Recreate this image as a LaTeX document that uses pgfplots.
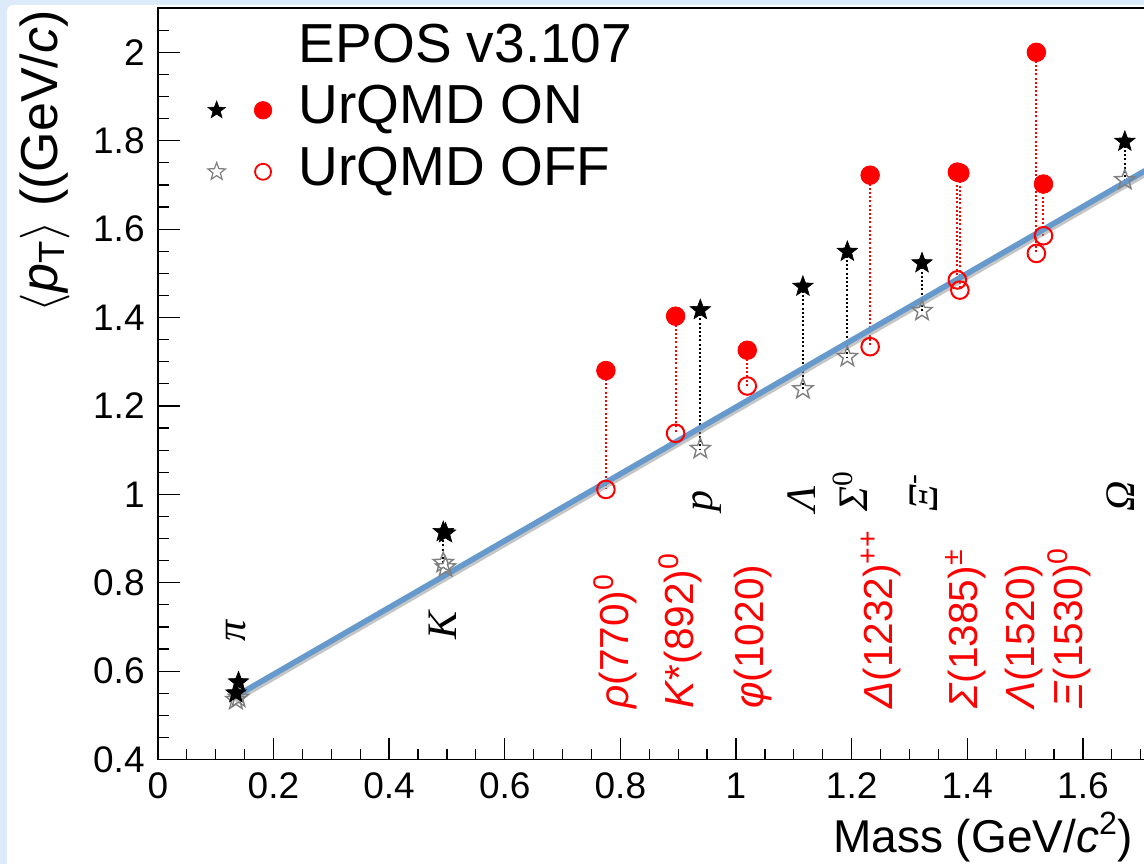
\documentclass[border=0pt]{standalone}
\usepackage{fontspec}
\setmainfont{Liberation Sans}
\newfontfamily\serifont{Liberation Serif}
\usepackage{pgfplots}
\pgfplotsset{compat=1.18}
\definecolor{bgblue}{RGB}{220,234,250}
\definecolor{lineblue}{RGB}{102,153,204}
\definecolor{offgray}{RGB}{128,128,128}
\newcommand\pstarpath{%
  \pgfpathmoveto{\pgfpointpolar{90}{\pgfplotmarksize}}%
  \pgfpathlineto{\pgfpointpolar{126}{0.42\pgfplotmarksize}}%
  \pgfpathlineto{\pgfpointpolar{162}{\pgfplotmarksize}}%
  \pgfpathlineto{\pgfpointpolar{198}{0.42\pgfplotmarksize}}%
  \pgfpathlineto{\pgfpointpolar{234}{\pgfplotmarksize}}%
  \pgfpathlineto{\pgfpointpolar{270}{0.42\pgfplotmarksize}}%
  \pgfpathlineto{\pgfpointpolar{306}{\pgfplotmarksize}}%
  \pgfpathlineto{\pgfpointpolar{342}{0.42\pgfplotmarksize}}%
  \pgfpathlineto{\pgfpointpolar{18}{\pgfplotmarksize}}%
  \pgfpathlineto{\pgfpointpolar{54}{0.42\pgfplotmarksize}}%
  \pgfpathclose}
\pgfdeclareplotmark{pstar}{\pstarpath\pgfusepathqfillstroke}
\pgfdeclareplotmark{pstaro}{\pstarpath\pgfusepathqstroke}
\pgfplotsset{
  redcon/.style={red, line width=1pt, dash pattern=on 1pt off 1.1pt, forget plot},
  blkcon/.style={black, line width=1pt, dash pattern=on 1pt off 1.1pt, forget plot},
}
\newcommand\redlab{\fontsize{20.3}{24}\selectfont\color{red}}
\newcommand\blklab{\fontsize{21}{25}\selectfont\serifont\itshape}
\begin{document}
\begin{tikzpicture}
\useasboundingbox (-78.9pt,-52.25pt) rectangle (493.1pt,379.75pt);
\clip (-78.9pt,-52.25pt) rectangle (493.1pt,379.75pt);
\fill[bgblue] (-78.9pt,-52.25pt) rectangle (493.1pt,379.75pt);
\fill[white, rounded corners=3pt] (-75.4pt,-60pt) rectangle (500pt,377.25pt);
\begin{axis}[
  at={(0,0)}, anchor=south west,
  scale only axis, width=520.38pt, height=375.7pt,
  xmin=0, xmax=1.8, ymin=0.4, ymax=2.1,
  clip=false,
  xtick={0,0.2,0.4,0.6,0.8,1,1.2,1.4,1.6},
  ytick={0.4,0.6,0.8,1,1.2,1.4,1.6,1.8,2},
  minor xtick={0.05,0.1,...,1.75},
  minor ytick={0.45,0.5,...,2.1},
  xtick pos=left, ytick pos=left,
  tick align=inside,
  major tick length=11pt, minor tick length=5.5pt,
  every tick/.style={black, line width=0.6pt},
  axis line style={line width=0.9pt},
  /pgf/number format/assume math mode=true,
  tick label style={font=\fontsize{18.5}{20}\selectfont, inner sep=0pt},
  xticklabel style={yshift=-6.5pt},
  yticklabel style={xshift=-6.4pt},
  legend cell align=left,
  legend style={draw=none, fill=none, inner sep=0pt, outer sep=0pt,
    at={(0.0479,0.9868)}, anchor=north west,
    font=\fontsize{27.5}{33}\selectfont,
    row sep=0pt, column sep=13.5pt,
    nodes={inner sep=0pt, outer sep=0pt, text height=22pt, text depth=8.75pt}},
]
\addlegendimage{empty legend}\addlegendentry{EPOS v3.107}
\addlegendimage{legend image code/.code={%
  \begin{scope}[shift={(4.5pt,0pt)}]\pgfsetplotmarksize{4.6pt}\pgfsetfillcolor{black}\pgfsetstrokecolor{black}\pgfsetlinewidth{0.3pt}\pgfuseplotmark{pstar}\end{scope}
  \begin{scope}[shift={(27.7pt,0pt)}]\pgfsetplotmarksize{4.4pt}\pgfsetfillcolor{red}\pgfsetstrokecolor{red}\pgfsetlinewidth{0.3pt}\pgfuseplotmark{*}\end{scope}}}
\addlegendentry{UrQMD ON}
\addlegendimage{legend image code/.code={%
  \begin{scope}[shift={(4.5pt,0pt)}]\pgfsetplotmarksize{4.6pt}\pgfsetstrokecolor{offgray}\pgfsetlinewidth{0.6pt}\pgfuseplotmark{pstaro}\end{scope}
  \begin{scope}[shift={(27.7pt,0pt)}]\pgfsetplotmarksize{4.0pt}\pgfsetstrokecolor{red}\pgfsetlinewidth{0.9pt}\pgfuseplotmark{o}\end{scope}}}
\addlegendentry{UrQMD OFF}

% connectors (red: resonances)
\addplot[redcon] coordinates {(0.775,1.280) (0.775,1.011)};
\addplot[redcon] coordinates {(0.8955,1.403) (0.8955,1.138)};
\addplot[redcon] coordinates {(1.0195,1.326) (1.0195,1.245)};
\addplot[redcon] coordinates {(1.232,1.722) (1.232,1.334)};
\addplot[redcon] coordinates {(1.3828,1.729) (1.3828,1.485)};
\addplot[redcon] coordinates {(1.3872,1.727) (1.3872,1.462)};
\addplot[redcon] coordinates {(1.5195,2.000) (1.5195,1.545)};
\addplot[redcon] coordinates {(1.5318,1.702) (1.5318,1.585)};
% connectors (black: stable hadrons)
\addplot[blkcon] coordinates {(0.4937,0.915) (0.4937,0.845)};
\addplot[blkcon] coordinates {(0.9383,1.417) (0.9383,1.103)};
\addplot[blkcon] coordinates {(1.1157,1.470) (1.1157,1.238)};
\addplot[blkcon] coordinates {(1.1926,1.549) (1.1926,1.311)};
\addplot[blkcon] coordinates {(1.3217,1.523) (1.3217,1.415)};
\addplot[blkcon] coordinates {(1.6725,1.798) (1.6725,1.711)};

% UrQMD OFF
\addplot[only marks, mark=o, mark size=4.4pt, red, line width=1pt, forget plot] coordinates {
 (0.775,1.011) (0.8955,1.138) (1.0195,1.245) (1.232,1.334) (1.3828,1.485) (1.3872,1.462) (1.5195,1.545) (1.5318,1.585)};
\addplot[only marks, mark=pstaro, mark size=5.3pt, offgray, line width=0.7pt, forget plot] coordinates {
 (0.1350,0.535) (0.1396,0.540) (0.4937,0.845) (0.4976,0.835) (0.9383,1.103) (1.1157,1.238) (1.1926,1.311) (1.3217,1.415) (1.6725,1.711)};
% UrQMD ON
\addplot[only marks, mark=pstar, mark size=5.4pt, black, line width=0.3pt, mark options={fill=black}, forget plot] coordinates {
 (0.1350,0.550) (0.1396,0.575) (0.4937,0.915) (0.4976,0.912) (0.9383,1.417) (1.1157,1.470) (1.1926,1.549) (1.3217,1.523) (1.6725,1.798)};
\addplot[only marks, mark=*, mark size=4.65pt, red, forget plot] coordinates {
 (0.775,1.280) (0.8955,1.403) (1.0195,1.326) (1.232,1.722) (1.3828,1.729) (1.3872,1.727) (1.5195,2.000) (1.5318,1.702)};

% fit line with shadow
\addplot[black!45, opacity=0.5, line width=2.8pt, xshift=0.8pt, yshift=-1.2pt, forget plot] coordinates {(0.1306,0.540) (1.80,1.802)};
\addplot[lineblue, line width=2.8pt, forget plot] coordinates {(0.1306,0.540) (1.80,1.802)};

% black labels
\node[rotate=90, anchor=base west, inner sep=0pt, font=\blklab] at (axis cs:0.151,0.666) {π};
\node[rotate=90, anchor=base west, inner sep=0pt, font=\blklab] at (axis cs:0.517,0.670) {K};
\node[rotate=90, anchor=base west, inner sep=0pt, font=\blklab] at (axis cs:0.9585,0.960) {p};
\node[rotate=90, anchor=base west, inner sep=0pt, font=\blklab] at (axis cs:1.137,0.960) {Λ};
\node[rotate=90, anchor=base west, inner sep=0pt, font=\blklab] at (axis cs:1.228,0.960) {Σ\textsuperscript{\upshape 0}};
\node[rotate=90, anchor=base west, inner sep=0pt, font=\blklab] at (axis cs:1.348,0.960) {Ξ\textsuperscript{\upshape -}};
\node[rotate=90, anchor=base west, inner sep=0pt, font=\blklab] at (axis cs:1.690,0.960) {Ω};
% red labels
\node[rotate=90, anchor=base west, inner sep=0pt, font=\redlab] at (axis cs:0.8135,0.514) {\textit{ρ}(770)\textsuperscript{0}};
\node[rotate=90, anchor=base west, inner sep=0pt, font=\redlab] at (axis cs:0.926,0.514) {\textit{K}*(892)\textsuperscript{0}};
\node[rotate=90, anchor=base west, inner sep=0pt, font=\redlab] at (axis cs:1.0467,0.514) {\textit{φ}(1020)};
\node[rotate=90, anchor=base west, inner sep=0pt, font=\redlab] at (axis cs:1.270,0.514) {\textit{Δ}(1232)\textsuperscript{++}};
\node[rotate=90, anchor=base west, inner sep=0pt, font=\redlab] at (axis cs:1.417,0.514) {\textit{Σ}(1385)\textsuperscript{±}};
\node[rotate=90, anchor=base west, inner sep=0pt, font=\redlab] at (axis cs:1.517,0.514) {\textit{Λ}(1520)};
\node[rotate=90, anchor=base west, inner sep=0pt, font=\redlab] at (axis cs:1.600,0.514) {\textit{Ξ}(1530)\textsuperscript{0}};

% axis titles
\node[rotate=90, anchor=base east, inner sep=0pt, font=\fontsize{26}{30}\selectfont] at (axis cs:-0.1743,2.0957) {$\langle$\textit{p}\textsubscript{T}$\rangle$ ((GeV/\textit{c})};
\node[anchor=base west, inner sep=0pt, font=\fontsize{23}{27}\selectfont] at (axis cs:1.1675,0.19) {Mass (GeV/\textit{c}\textsuperscript{2})};
\end{axis}
\end{tikzpicture}
\end{document}
